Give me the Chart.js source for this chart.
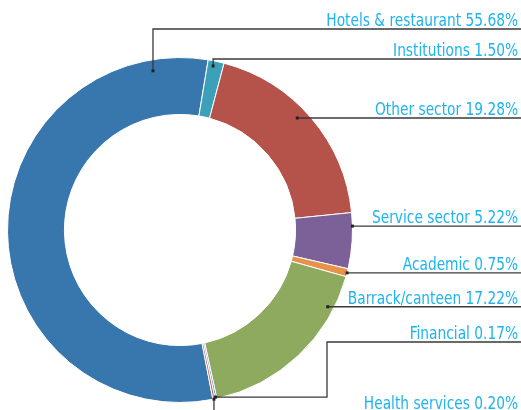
<!DOCTYPE html>
<html>
<head>
<meta charset="utf-8">
<script src="https://cdn.jsdelivr.net/npm/chart.js@4/dist/chart.umd.min.js"></script>
<style>
  html, body { margin: 0; padding: 0; background: #fff; }
  #wrap { width: 521px; height: 410px; }
</style>
</head>
<body>
<div id="wrap"><canvas id="chart" width="521" height="410"></canvas></div>
<script>
// Sector shares (%)
const categories = ['Hotels & restaurant', 'Institutions', 'Other sector', 'Service sector',
    'Academic', 'Barrack/canteen', 'Financial', 'Health services'];
const shares = [55.68, 1.50, 19.28, 5.22, 0.75, 17.22, 0.17, 0.20];
const sliceColors = ['#3777ae', '#3ca0b9', '#b5524a', '#7b6197', '#e8914b', '#8eaa5e', '#4f81c8', '#c8605a'];

// Leader line layout: where inside each slice the dot sits, and where the line bends
const anchorFrac = [0.905, 0.37, 0.454, 0.24, 0.52, 0.19, 0.5, 0.5];
const anchorRad = [0.936, 0.97, 0.94, 1.0, 1.0, 0.965, 0.99, 1.0];
// null = straight line at dot height, otherwise the y of the horizontal run
const bendY = [29, 59, null, null, null, null, 342, 414];
const bendX = [null, null, null, null, null, null, 327, null];

const labelPlugin = {
    id: 'leaderLabels',
    afterDraw(chart) {
        const ctx = chart.ctx;
        const arcs = chart.getDatasetMeta(0).data;
        const right = chart.width;
        ctx.save();
        ctx.font = '17px "DejaVu Sans Condensed", "Liberation Sans Narrow", sans-serif';
        ctx.textAlign = 'right';
        ctx.textBaseline = 'alphabetic';
        arcs.forEach((arc, i) => {
            const a = arc.startAngle + (arc.endAngle - arc.startAngle) * anchorFrac[i];
            const r = arc.outerRadius * anchorRad[i];
            const dx = arc.x + Math.cos(a) * r;
            const dy = arc.y + Math.sin(a) * r;
            const lineY = bendY[i] === null ? dy : bendY[i];

            ctx.strokeStyle = '#3a3a3a';
            ctx.lineWidth = 1.3;
            ctx.beginPath();
            ctx.moveTo(dx, dy);
            if (bendX[i] !== null) {
                ctx.lineTo(bendX[i], dy);
                ctx.lineTo(bendX[i], lineY);
            } else if (bendY[i] !== null) {
                ctx.lineTo(dx, lineY);
            }
            ctx.lineTo(right, lineY);
            ctx.stroke();

            ctx.fillStyle = '#222';
            ctx.fillRect(dx - 1.5, dy - 1.5, 3, 3);

            // condensed look of the original labels
            ctx.fillStyle = '#1fb3ef';
            const txt = categories[i] + ' ' + shares[i].toFixed(2) + '%';
            const ty = i === 7 ? 409 : lineY - 3;
            ctx.save();
            ctx.translate(518, ty);
            ctx.scale(0.9, 1);
            ctx.fillText(txt, 0, 0);
            ctx.restore();
        });
        ctx.restore();
    }
};

new Chart(document.getElementById('chart'), {
    type: 'doughnut',
    data: {
        labels: categories,
        datasets: [{
            data: shares,
            backgroundColor: sliceColors,
            borderColor: '#ffffff',
            borderWidth: 1
        }]
    },
    options: {
        responsive: false,
        animation: false,
        rotation: 169,
        cutout: '67%',
        layout: { padding: { top: 57, bottom: 7, left: 7, right: 168 } },
        plugins: {
            legend: { display: false },
            tooltip: { enabled: false }
        }
    },
    plugins: [labelPlugin]
});
</script>
</body>
</html>
